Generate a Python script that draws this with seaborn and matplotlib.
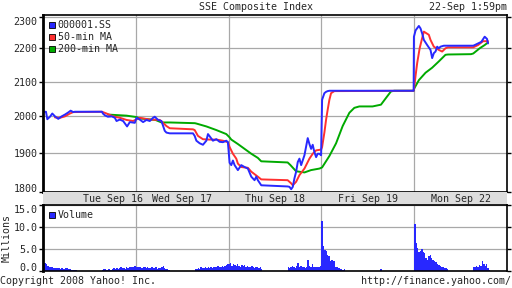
import numpy as np
import pandas as pd
import matplotlib
matplotlib.use("Agg")
import matplotlib.pyplot as plt
import seaborn as sns
from matplotlib.lines import Line2D
from matplotlib.ticker import NullLocator, FixedLocator, FixedFormatter

# ---------------- data ----------------
# time axis: minutes since Tue Sep 16 09:30; each trading day spans 330 min (09:30-15:00 incl. lunch)
price_t = [0, 10.6, 15.3, 24.8, 33, 42.6, 54.3, 66.4, 78, 89.8, 98.3, 107.5, 113.5, 209.4, 213, 220, 230.6,
           244.8, 255.5, 261.5, 273.2, 285, 299, 308.7, 326.5,
           332.5, 344.2, 355.9, 368, 379.7, 391.4, 397.4, 409.1, 421.2, 432.9, 439, 450.7, 533.3, 539.4, 545.4,
           557.1, 568.8, 580.9, 586.6, 592.6, 604.3, 616.4, 628.1, 639.8, 651.8, 657.5,
           663.5, 669.6, 675.3, 681.3, 693, 705.1, 716.8, 728.5, 740.6, 752.3, 758.4, 764, 776.1, 870, 876.5,
           882.5, 888.2, 894.2, 900.2, 905.9, 911.9, 918, 929.7, 941.4, 947.4, 953.4, 959.1, 965.2, 971.2,
           976.9, 982.9, 988.9,
           992.5, 1000.6, 1006.7, 1012.4, 1018.4, 1318,
           1319, 1325, 1336.6, 1342.5, 1348.4, 1354.3, 1366.2, 1378, 1383.9, 1389.8, 1395.8, 1401.7, 1407.6,
           1413.5, 1425.3, 1440, 1530, 1535.2, 1558.8, 1570.6, 1579, 1582.4]
price_v = [2012, 2013, 1992, 1999, 2008, 2000, 1993, 2000, 2005, 2011, 2016, 2012, 2013, 2013, 2008, 2003, 1999,
           2000, 1996, 1987, 1991, 1987, 1972, 1984, 1982,
           1996, 1991, 1984, 1990, 1987, 1996, 1999, 1990, 1987, 1960, 1955, 1953, 1953, 1946, 1933,
           1926, 1922, 1933, 1951, 1945, 1933, 1937, 1930, 1929, 1933, 1929,
           1874, 1868, 1880, 1868, 1855, 1868, 1863, 1859, 1838, 1829, 1838, 1829, 1816, 1813, 1812,
           1806, 1812, 1834, 1851, 1876, 1885, 1868, 1894, 1940, 1924, 1911, 1922, 1902, 1889,
           1898, 1898, 1894,
           2047, 2066, 2070, 2072, 2073, 2073,
           2236, 2256, 2270, 2262, 2246, 2226, 2210, 2195, 2170, 2185, 2190, 2205, 2200,
           2205, 2208, 2208, 2208, 2210, 2220, 2236, 2229, 2215]

ma50_t = [42.6, 60.3, 78, 95.8, 107.5, 209.4, 226, 249.5, 273.2, 297, 320.4,
          344.2, 379.7, 415.2, 426.9, 439, 450.7, 533.3, 539.4, 551.1, 568.8, 592.6, 616.4, 639.8, 657.5,
          663.5, 675.3, 687.3, 693, 705.1, 728.5, 740.6, 764, 776.1, 870, 882.5, 888.2, 900.2, 911.9, 929.7,
          947.4, 959.1, 971.2, 988.9,
          992.5, 1000.6, 1006.7, 1012.4, 1018.4, 1024.4, 1036.1, 1318,
          1319, 1325, 1330.8, 1339.4, 1348.4, 1354.3, 1372, 1378, 1389.8, 1407.6, 1419.4, 1431.2, 1440,
          1530, 1547, 1565, 1582.4]
ma50_v = [1997, 1996, 2000, 2008, 2012, 2013, 2008, 2000, 1996, 1990, 1987,
          1996, 1991, 1990, 1982, 1973, 1967, 1964, 1962, 1946, 1937, 1936, 1936, 1933, 1929,
          1916, 1898, 1885, 1872, 1863, 1861, 1851, 1838, 1831, 1829, 1821, 1816, 1825, 1842, 1859,
          1885, 1898, 1907, 1909,
          1916, 1955, 1991, 2019, 2047, 2066, 2072, 2073,
          2076, 2118, 2156, 2200, 2232, 2252, 2242, 2226, 2205, 2195, 2190, 2200, 2203,
          2203, 2210, 2222, 2222]

ma200_t = [230.6, 297, 332.5, 344.2, 400, 421.2, 450, 540, 545.4, 580.9, 616.4, 651.8,
           663.5, 669.6, 693, 716.8, 740.6, 764, 776.1, 870, 880, 900, 930, 953, 983,
           992.5, 1018.4, 1042.2, 1065.6, 1089.4, 1107.1, 1124.8, 1172, 1201.8, 1219.5, 1237.3, 1249, 1318,
           1319, 1336.6, 1360.3, 1383.9, 1407.6, 1431.2, 1440, 1522, 1530, 1552.9, 1570.6, 1582.4]
ma200_v = [2005, 2002, 1998, 1994, 1990, 1983, 1983, 1981, 1980, 1972, 1962, 1951,
           1942, 1936, 1924, 1911, 1898, 1887, 1878, 1875, 1868, 1852, 1849, 1855, 1859,
           1862, 1892, 1926, 1973, 2010, 2024, 2028, 2028, 2033, 2052, 2071, 2073, 2073,
           2078, 2104, 2126, 2141, 2160, 2180, 2181, 2182, 2184, 2200, 2210, 2218]

# volume, millions, 5-minute bars per trading session
session_start = [0, 210, 330, 540, 660, 870, 990, 1200, 1320, 1530]
vol_tue_am = [2.0, 1.9, 1.7, 1.2, 0.9, 0.9, 0.8, 0.7, 0.7, 0.6, 0.7, 0.6, 0.5, 0.6, 0.5, 0.4, 0.6, 0.6, 0.4, 0.5, 0.3, 0.3, 0.2, 0.2]
vol_tue_pm = [0.3, 0.4, 0.4, 0.3, 0.5, 0.4, 0.3, 0.5, 0.6, 0.4, 0.7, 0.5, 0.6, 0.9, 0.6, 0.7, 0.5, 0.9, 0.7, 1.0, 0.8, 1.0, 0.9, 1.1]
vol_wed_am = [1.0, 0.9, 1.0, 0.8, 0.7, 0.9, 0.8, 0.6, 0.8, 0.7, 0.6, 0.9, 0.7, 0.6, 0.8, 0.5, 0.6, 0.7, 0.9, 1.2, 0.7, 0.5, 0.4, 0.3]
vol_wed_pm = [0.4, 0.5, 0.6, 0.5, 0.9, 0.6, 0.7, 1.0, 0.6, 0.8, 0.7, 0.9, 0.6, 1.0, 0.8, 0.9, 1.1, 0.8, 1.0, 1.2, 0.9, 1.1, 1.3, 1.5]
vol_thu_am = [1.5, 1.8, 1.2, 1.6, 1.4, 1.1, 1.5, 1.2, 1.0, 1.3, 1.1, 1.4, 0.9, 1.2, 1.0, 0.8, 1.1, 0.9, 0.7, 1.0, 0.8, 0.6, 0.9, 0.5]
vol_thu_pm = [0.9, 0.7, 0.8, 1.1, 0.9, 0.7, 1.2, 1.9, 0.8, 1.1, 1.0, 0.9, 0.7, 1.0, 2.5, 1.1, 0.9, 1.6, 1.0, 0.8, 1.0, 0.9, 1.0, 1.1]
vol_fri_am = [11.4, 5.7, 4.8, 4.5, 3.6, 3.4, 2.3, 2.4, 2.2, 2.3, 0.8, 0.9, 0.7, 0.4, 0.5, 0.3, 0.4]
vol_fri_pm = [0.4]
vol_mon_am = [10.6, 6.4, 5.2, 4.4, 4.6, 4.9, 4.3, 4.0, 3.0, 2.5, 3.4, 3.6, 3.0, 2.6, 2.3, 2.1, 1.6, 1.4, 1.1, 0.9, 0.8, 0.7, 0.6, 0.5]
vol_mon_pm = [1.0, 0.9, 1.1, 1.0, 1.4, 1.2, 2.3, 1.6, 1.1, 1.5, 0.6, 0.3]
vol_sessions = [vol_tue_am, vol_tue_pm, vol_wed_am, vol_wed_pm, vol_thu_am, vol_thu_pm,
                vol_fri_am, vol_fri_pm, vol_mon_am, vol_mon_pm]

day_labels = ["Tue Sep 16", "Wed Sep 17", "Thu Sep 18", "Fri Sep 19", "Mon Sep 22"]
day_label_pos = [248, 495, 825, 1155, 1485]
day_bounds = [330, 660, 990, 1320]
price_ticks = [1800, 1900, 2000, 2100, 2200, 2300]
vol_ticks = [0, 5, 10, 15]
vol_tick_labels = ["0.0", "5.0", "10.0", "15.0"]

# ---------------- style ----------------
sns.set_style("white")
plt.rcParams["font.family"] = ["DejaVu Sans Mono"]
FS = 7.2
BLUE = "#2828ff"
RED = "#ff3030"
GREEN = "#00aa00"
GRID = "#a8a8a8"
LW = 1.4

W, H = 512, 288
fig = plt.figure(figsize=(W / 100, H / 100), dpi=100)
fig.patch.set_facecolor("white")

L, R = 43, 507
ax = fig.add_axes([L / W, 1 - 192 / H, (R - L) / W, (192 - 15) / H])
strip = fig.add_axes([L / W, 1 - 205 / H, (R - L) / W, 13 / H])
axv = fig.add_axes([L / W, 1 - 271 / H, (R - L) / W, (271 - 205) / H])

XMAX = 1650

# price panel
sns.lineplot(x=ma200_t, y=ma200_v, ax=ax, color=GREEN, lw=LW, estimator=None, sort=False)
sns.lineplot(x=ma50_t, y=ma50_v, ax=ax, color=RED, lw=LW, estimator=None, sort=False)
sns.lineplot(x=price_t, y=price_v, ax=ax, color=BLUE, lw=LW, estimator=None, sort=False)
ax.set_yscale("log")
ax.set_ylim(1799, 2305)
ax.set_xlim(0, XMAX)
ax.yaxis.set_major_locator(FixedLocator(price_ticks))
ax.yaxis.set_major_formatter(FixedFormatter([str(v) for v in price_ticks]))
ax.yaxis.set_minor_locator(NullLocator())
ax.set_xticks(day_bounds)
ax.set_xticklabels([])
ax.grid(True, color=GRID, lw=0.9)
ax.set_axisbelow(True)
ax.tick_params(axis="x", length=0)
ax.tick_params(axis="y", which="major", left=True, right=True, direction="out", length=3,
               width=1, color="black", labelsize=FS, pad=1)
ax.set_xlabel("")
ax.set_ylabel("")
for s in ax.spines.values():
    s.set_color("black")
    s.set_linewidth(1.2)
ax.spines["left"].set_linewidth(2)
lbls = ax.get_yticklabels()
lbls[0].set_va("baseline")
lbls[-1].set_va("top")

handles = [Line2D([], [], ls="", marker="s", markersize=4.6, markerfacecolor=c,
                  markeredgecolor="black", markeredgewidth=0.6) for c in (BLUE, RED, GREEN)]
ax.legend(handles, ["000001.SS", "50-min MA", "200-min MA"], loc="upper left",
          bbox_to_anchor=(0.0, 1.0), frameon=False, fontsize=FS, handlelength=0.7,
          handletextpad=0.25, borderaxespad=0.3, labelspacing=0.22, borderpad=0.2)

# date strip
strip.set_facecolor("#dddddd")
strip.set_xlim(0, XMAX)
strip.set_ylim(0, 1)
strip.set_xticks([])
strip.set_yticks([])
for s in strip.spines.values():
    s.set_visible(False)
for lab, pos in zip(day_labels, day_label_pos):
    strip.text(pos, 0.45, lab, ha="center", va="center", fontsize=FS)

# volume panel
vol_t, vol_v = [], []
for start, vals in zip(session_start, vol_sessions):
    for i, v in enumerate(vals):
        vol_t.append(start + 5 * i + 2.5)
        vol_v.append(v)
vol_df = pd.DataFrame({"t": vol_t, "v": vol_v})
sns.histplot(data=vol_df, x="t", weights="v", binwidth=5, binrange=(0, XMAX), ax=axv,
             color=BLUE, alpha=1, linewidth=0)
axv.set_xlim(0, XMAX)
axv.set_ylim(0, 15)
axv.set_yticks(vol_ticks)
axv.set_yticklabels(vol_tick_labels)
axv.set_xticks(day_bounds)
axv.set_xticklabels([])
axv.grid(True, color=GRID, lw=0.9)
axv.set_axisbelow(True)
axv.tick_params(axis="x", length=0)
axv.tick_params(axis="y", left=True, right=True, direction="out", length=3, width=1,
                color="black", labelsize=FS, pad=1)
axv.set_xlabel("")
axv.set_ylabel("Millions", fontsize=FS, labelpad=1)
for s in axv.spines.values():
    s.set_color("black")
    s.set_linewidth(1.2)
axv.spines["left"].set_linewidth(2)
vl = axv.get_yticklabels()
vl[0].set_va("baseline")
vl[-1].set_va("top")
axv.legend([Line2D([], [], ls="", marker="s", markersize=4.6, markerfacecolor=BLUE,
                   markeredgecolor="black", markeredgewidth=0.6)], ["Volume"],
           loc="upper left", bbox_to_anchor=(0.0, 1.0), frameon=False, fontsize=FS,
           handlelength=0.7, handletextpad=0.25, borderaxespad=0.3, borderpad=0.2)

# header / footer
fig.text(0.5, 1 - 7 / H, "SSE Composite Index", ha="center", va="center", fontsize=FS)
fig.text(R / W, 1 - 7 / H, "22-Sep 1:59pm", ha="right", va="center", fontsize=FS)
fig.text(0 / W, 1 - 280.5 / H, "Copyright 2008 Yahoo! Inc.", ha="left", va="center", fontsize=FS)
fig.text(511 / W, 1 - 280.5 / H, "http://finance.yahoo.com/", ha="right", va="center", fontsize=FS)

fig.savefig("out.png", dpi=100)
